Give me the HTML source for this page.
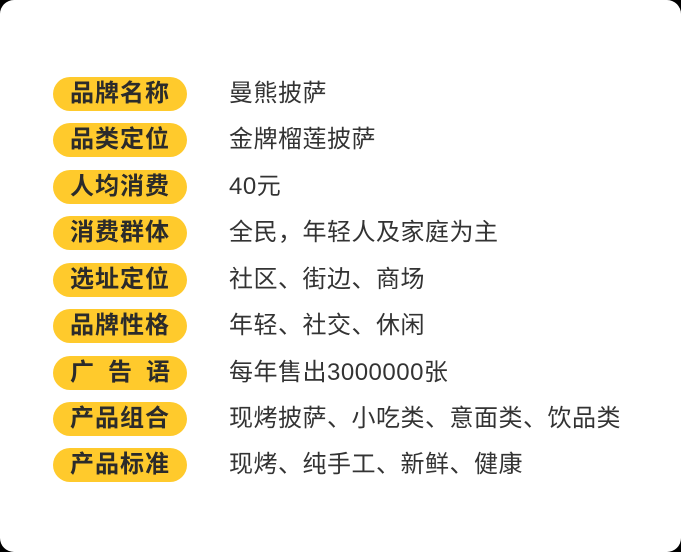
<!DOCTYPE html>
<html><head><meta charset="utf-8"><style>
html,body{margin:0;padding:0;background:#000;}
.card{position:absolute;left:0;top:0;width:681px;height:552px;background:#fff;border-radius:14px;}
.row{position:absolute;left:0;height:34px;}
.pill{position:absolute;left:53px;top:0;width:134px;height:34px;border-radius:17px;background:#FFCA2C;
font-family:"Liberation Sans","Noto Sans CJK SC",sans-serif;font-weight:bold;font-size:24px;color:#2b2b2b;
text-align:center;line-height:34px;letter-spacing:1px;}
.val{position:absolute;left:229px;top:0;white-space:nowrap;font-family:"Liberation Sans","Noto Sans CJK SC",sans-serif;
font-size:24px;color:#333;line-height:34px;letter-spacing:0.5px;}
</style></head><body>
<div class="card">
<div class="row" style="top:77px"><div class="pill">品牌名称</div><div class="val">曼熊披萨</div></div>
<div class="row" style="top:123px"><div class="pill">品类定位</div><div class="val">金牌榴莲披萨</div></div>
<div class="row" style="top:170px"><div class="pill">人均消费</div><div class="val">40元</div></div>
<div class="row" style="top:216px"><div class="pill">消费群体</div><div class="val">全民，年轻人及家庭为主</div></div>
<div class="row" style="top:263px"><div class="pill">选址定位</div><div class="val">社区、街边、商场</div></div>
<div class="row" style="top:309px"><div class="pill">品牌性格</div><div class="val">年轻、社交、休闲</div></div>
<div class="row" style="top:356px"><div class="pill" style="letter-spacing:14px;text-indent:14px">广告语</div><div class="val">每年售出3000000张</div></div>
<div class="row" style="top:402px"><div class="pill">产品组合</div><div class="val">现烤披萨、小吃类、意面类、饮品类</div></div>
<div class="row" style="top:448px"><div class="pill">产品标准</div><div class="val">现烤、纯手工、新鲜、健康</div></div>
</div>
</body></html>
